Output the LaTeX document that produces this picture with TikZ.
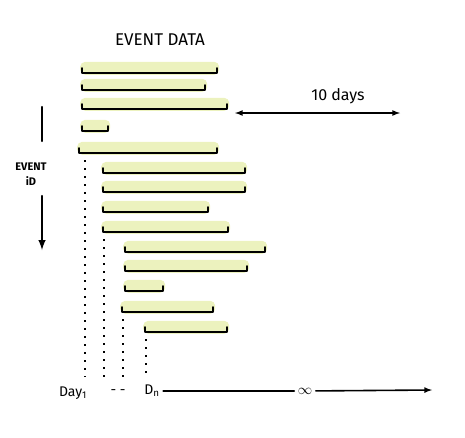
\documentclass[tikz,border=0pt]{standalone}
\usepackage{fontspec}
\setmainfont{Fira Sans}
\usepackage{tikz}
\usetikzlibrary{arrows, positioning}
\definecolor{hl}{RGB}{236,242,190}

\begin{document}
\begin{tikzpicture}[x=1pt,y=-1pt,
  hand/.style={line width=1.6pt, line cap=round},
  evbar/.style={fill=hl, rounded corners=5pt, inner sep=0pt, minimum height=13pt, anchor=south west},
  barline/.style={line width=2pt, line join=round, line cap=round},
  daydot/.style={dash pattern=on 2pt off 6pt, line width=1.4pt},
  lbl/.style={font=\fontsize{14}{16}\selectfont}]
\useasboundingbox (0,0) rectangle (465,437);
%title
\node[lbl, font=\fontsize{17}{19}\selectfont] (title) at (160,40) {EVENT DATA};
%event bars
\node[evbar, minimum width=139pt] (e1) at (80,75) {};
\node[evbar, minimum width=127pt] (e2) at (80,92) {};
\node[evbar, minimum width=149pt] (e3) at (80,111) {};
\node[evbar, minimum width=30pt] (e4) at (80,133) {};
\node[evbar, minimum width=142pt] (e5) at (77,155) {};
\node[evbar, minimum width=146pt] (e6) at (101,175) {};
\node[evbar, minimum width=146pt] (e7) at (101,194) {};
\node[evbar, minimum width=109pt] (e8) at (101,214) {};
\node[evbar, minimum width=129pt] (e9) at (101,234) {};
\node[evbar, minimum width=144pt] (e10) at (123,254) {};
\node[evbar, minimum width=126pt] (e11) at (123,273) {};
\node[evbar, minimum width=42pt] (e12) at (123,293) {};
\node[evbar, minimum width=95pt] (e13) at (120,314) {};
\node[evbar, minimum width=86pt] (e14) at (143,334) {};
\foreach \i in {1,...,14}
  \draw[barline] ([shift={(2pt,7pt)}]e\i.south west) -- ([shift={(2pt,2pt)}]e\i.south west)
    -- ([shift={(-2pt,2pt)}]e\i.south east) -- ([shift={(-2pt,7pt)}]e\i.south east);
%window arrow
\node[lbl, font=\fontsize{16}{18}\selectfont] (days) at (338,96) {10 days};
\coordinate (wl) at (235,113);
\coordinate (wr) at (400,113);
\draw[hand,latex-latex] (wl) -- (wr);
%event id arrow
\node[lbl, align=center, font=\bfseries\fontsize{11}{15}\selectfont] (evid) at (31,174) {EVENT\\iD};
\coordinate (idtop) at (42,107);
\coordinate (idmid) at (42,141);
\coordinate (idlow) at (42,196);
\coordinate (idbot) at (42,250);
\draw[hand, line width=2.4pt] (idtop) -- (idmid);
\draw[hand, line width=2.4pt,-latex] (idlow) -- (idbot);
%day columns
\coordinate (t1) at (85,377);
\coordinate (t2) at (104,377);
\coordinate (t3) at (123,377);
\coordinate (t4) at (146,377);
\draw[daydot] ([shift={(8pt,-5pt)}]e5.south west) -- (t1);
\draw[daydot] ([shift={(3pt,-5pt)}]e9.south west) -- (t2);
\draw[daydot] ([shift={(3pt,-5pt)}]e13.south west) -- (t3);
\draw[daydot] ([shift={(3pt,-5pt)}]e14.south west) -- (t4);
%time axis
\node[lbl] (day1) at (73,393) {Day\textsubscript{1}};
\node[lbl] (gap) at (118,392) {- -};
\node[lbl] (dn) at (152,391) {D\textsubscript{n}};
\node[lbl] (inf) at (305,391) {$\infty$};
\coordinate (tend) at (432,390);
\draw[hand] (dn) -- (inf);
\draw[hand,-latex] (inf) -- (tend);
\end{tikzpicture}
\end{document}
